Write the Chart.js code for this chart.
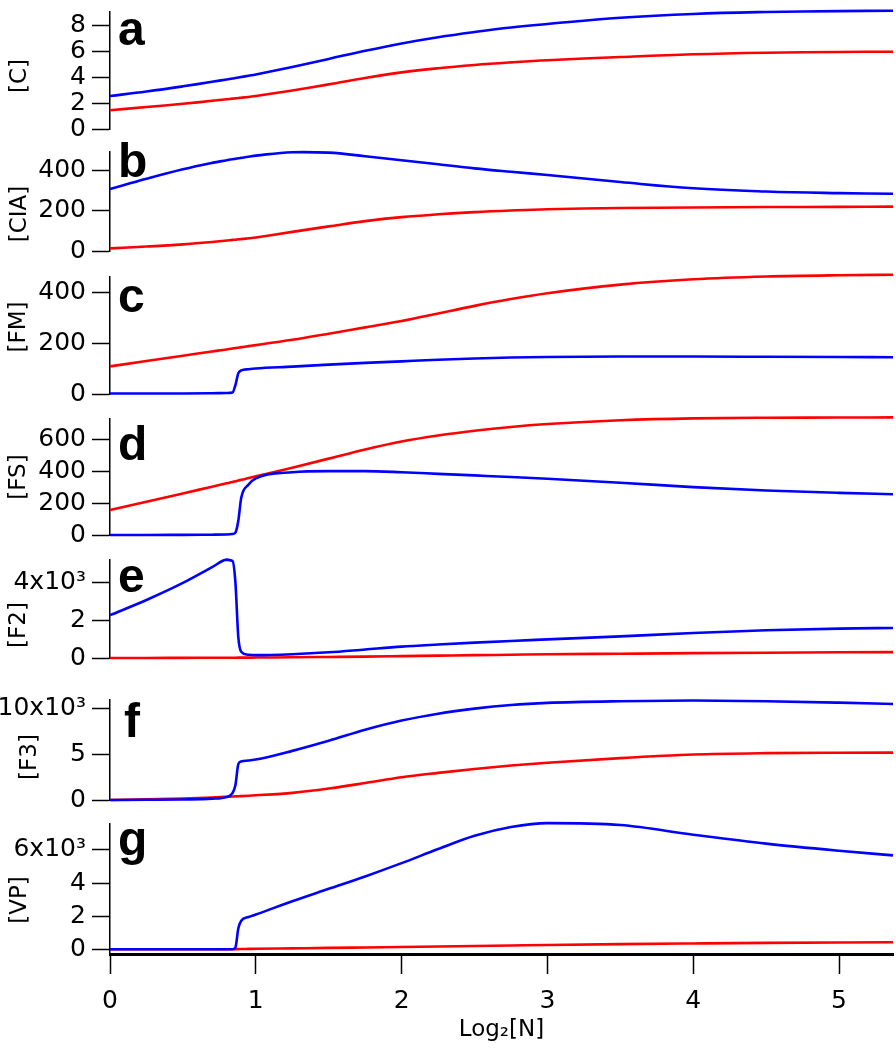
<!DOCTYPE html>
<html>
<head>
<meta charset="utf-8">
<title>Steady state vs Log2[N]</title>
<script src="https://cdn.jsdelivr.net/npm/chart.js@4.4.0/dist/chart.umd.min.js"></script>
<style>
  html, body { margin: 0; padding: 0; background: #fff; }
  #wrap { position: relative; width: 896px; height: 1052px; overflow: hidden; }
  .panel { position: absolute; left: 0; width: 896px; }
</style>
</head>
<body>
<div id="wrap"></div>
<script>
// shared x grid (Log2[N]), finer around the switch near 0.85
const xs = [0, 0.25, 0.5, 0.7, 0.8, 0.84, 0.86, 0.88, 0.9, 0.95, 1, 1.25, 1.5, 1.75, 2, 2.25, 2.5, 2.75, 3, 3.5, 4, 4.5, 5, 5.37];

// a  [C]
const cBlue = [2.55, 2.9, 3.3, 3.65, 3.83, 3.9, 3.94, 3.98, 4.02, 4.12, 4.22, 4.8, 5.42, 6.05, 6.62, 7.1, 7.5, 7.85, 8.12, 8.6, 8.9, 9.05, 9.12, 9.15];
const cRed = [1.45, 1.7, 1.95, 2.18, 2.3, 2.35, 2.37, 2.4, 2.42, 2.48, 2.55, 2.98, 3.45, 3.95, 4.38, 4.7, 4.95, 5.15, 5.32, 5.57, 5.78, 5.9, 5.96, 5.98];
// b  [CIA]
const ciaBlue = [307, 358, 405, 437, 450, 455, 457, 460, 462, 467, 473, 490, 488, 470, 450, 430, 410, 393, 377, 342, 311, 295, 287, 284];
const ciaRed = [13, 22, 33, 45, 52, 55, 56, 58, 59, 63, 67, 95, 122, 148, 168, 182, 193, 201, 207, 213, 216, 218, 219, 220];
// c  [FM]
const fmBlue = [2, 2, 2, 3, 4, 6, 35, 82, 93, 98, 101, 108, 116, 123, 129, 135, 140, 144, 146, 148, 148, 147, 146, 145];
const fmRed = [109, 130, 151, 168, 176, 180, 181, 183, 185, 189, 193, 214, 238, 263, 288, 318, 348, 375, 398, 432, 453, 464, 469, 471];
// d  [FS]
const fsBlue = [0, 0, 1, 2, 3, 6, 15, 90, 235, 318, 357, 396, 403, 403, 396, 386, 376, 366, 355, 330, 302, 281, 266, 257];
const fsRed = [158, 210, 262, 305, 326, 335, 339, 344, 348, 359, 370, 425, 482, 540, 590, 628, 658, 682, 700, 724, 736, 740, 741, 742];
// e  [F2]
const f2Blue = [2260, 3060, 3960, 4790, 5190, 5120, 4000, 1100, 330, 170, 150, 200, 300, 450, 600, 710, 810, 900, 980, 1140, 1320, 1460, 1550, 1585];
const f2Red = [0, 3, 8, 12, 15, 16, 17, 18, 19, 21, 24, 36, 55, 75, 100, 125, 150, 172, 195, 225, 255, 280, 300, 310];
// f  [F3]
const f3Blue = [0, 20, 60, 150, 330, 750, 1600, 3900, 4200, 4300, 4400, 5350, 6450, 7650, 8650, 9400, 9950, 10350, 10580, 10760, 10830, 10760, 10600, 10450];
const f3Red = [0, 70, 170, 280, 350, 380, 395, 410, 425, 465, 510, 780, 1250, 1850, 2480, 2950, 3380, 3750, 4050, 4560, 4950, 5100, 5150, 5160];
// g  [VP]
const vpBlue = [0, 0, 0, 0, 0, 0, 100, 1250, 1720, 1950, 2100, 2900, 3650, 4400, 5200, 6050, 6850, 7380, 7620, 7500, 6920, 6380, 5950, 5670];
const vpRed = [0, 0, 0, 0, 0, 0, 5, 10, 15, 22, 30, 55, 80, 110, 140, 170, 200, 230, 260, 310, 350, 385, 410, 420];

// tick values and labels
const cTicks = [0, 2, 4, 6, 8];
const cLabels = ['0', '2', '4', '6', '8'];
const ciaTicks = [0, 200, 400];
const ciaLabels = ['0', '200', '400'];
const fmTicks = [0, 200, 400];
const fmLabels = ['0', '200', '400'];
const fsTicks = [0, 200, 400, 600];
const fsLabels = ['0', '200', '400', '600'];
const f2Ticks = [0, 2000, 4000];
const f2Labels = ['0', '2', '4x10\u00b3'];
const f3Ticks = [0, 5000, 10000];
const f3Labels = ['0', '5', '10x10\u00b3'];
const vpTicks = [0, 2000, 4000, 6000];
const vpLabels = ['0', '2', '4', '6x10\u00b3'];
const xTicks = [0, 1, 2, 3, 4, 5];
const xLabels = ['0', '1', '2', '3', '4', '5'];

const X_MAX = 5.37;
const BLUE = '#0000ff';
const RED = '#ff0000';
const TICK_FONT = { family: '"DejaVu Sans", sans-serif', size: 25 };

// layout of each panel: plot area top/bottom in px, letter offset (lx, ly), y title centre (tx, ty)
const panels = [
  { letter: 'a', title: '[C]', blue: cBlue, red: cRed, ticks: cTicks, labels: cLabels, min: 0, max: 9.05, top: 5, bottom: 136, lx: 8, ly: 33, tx: 20, ty: 64, jump: false },
  { letter: 'b', title: '[CIA]', blue: ciaBlue, red: ciaRed, ticks: ciaTicks, labels: ciaLabels, min: 0, max: 491, top: 145, bottom: 258, lx: 8, ly: 25, tx: 20, ty: 62, jump: false },
  { letter: 'c', title: '[FM]', blue: fmBlue, red: fmRed, ticks: fmTicks, labels: fmLabels, min: 0, max: 462, top: 270, bottom: 401, lx: 8, ly: 35, tx: 19, ty: 50, jump: true },
  { letter: 'd', title: '[FS]', blue: fsBlue, red: fsRed, ticks: fsTicks, labels: fsLabels, min: 0, max: 732, top: 412, bottom: 542, lx: 8, ly: 41, tx: 19, ty: 58, jump: true },
  { letter: 'e', title: '[F2]', blue: f2Blue, red: f2Red, ticks: f2Ticks, labels: f2Labels, min: 0, max: 5170, top: 553, bottom: 665, lx: 8, ly: 32, tx: 19, ty: 65, jump: true },
  { letter: 'f', title: '[F3]', blue: f3Blue, red: f3Red, ticks: f3Ticks, labels: f3Labels, min: 0, max: 10890, top: 693, bottom: 807, lx: 14, ly: 37, tx: 30, ty: 57, jump: true },
  { letter: 'g', title: '[VP]', blue: vpBlue, red: vpRed, ticks: vpTicks, labels: vpLabels, min: -287, max: 7565, top: 817, bottom: 954, lx: 8, ly: 31, tx: 20, ty: 76, jump: true, last: true }
];

const PAD = 14;
const AXIS_W = 110;

// panel letter and rotated y-axis title
const panelLabels = {
  id: 'panelLabels',
  afterDraw(chart, args, opts) {
    const ctx = chart.ctx;
    const area = chart.chartArea;
    ctx.save();
    ctx.fillStyle = '#000';
    ctx.font = 'bold 48px "Liberation Sans", Arial, sans-serif';
    ctx.textBaseline = 'alphabetic';
    ctx.textAlign = 'left';
    ctx.fillText(opts.letter, area.left + opts.dx, area.top + opts.dy);

    ctx.font = '23px "DejaVu Sans", sans-serif';
    ctx.textAlign = 'center';
    ctx.textBaseline = 'middle';
    ctx.translate(opts.tx, area.top + opts.ty);
    ctx.rotate(-Math.PI / 2);
    ctx.fillText(opts.title, 0, 0);
    ctx.restore();
  }
};

function series(values) {
  return xs.map(function(x, i) { return { x: x, y: values[i] }; });
}

function lineStyle(color, monotone) {
  return {
    borderColor: color,
    borderWidth: 2.6,
    pointRadius: 0,
    tension: 0.4,
    cubicInterpolationMode: monotone ? 'monotone' : 'default',
    clip: false
  };
}

function makePanel(p) {
  const wrap = document.getElementById('wrap');
  const div = document.createElement('div');
  div.className = 'panel';
  const canvasTop = p.top - PAD;
  const height = p.last ? 1052 - canvasTop : (p.bottom - p.top) + 2 * PAD;
  div.style.top = canvasTop + 'px';
  div.style.height = height + 'px';
  const canvas = document.createElement('canvas');
  canvas.width = 896;
  canvas.height = height;
  div.appendChild(canvas);
  wrap.appendChild(div);

  const xAxis = {
    type: 'linear',
    min: 0,
    max: X_MAX,
    display: !!p.last
  };
  if (p.last) {
    Object.assign(xAxis, {
      afterFit: function(scale) { scale.height = 1052 - p.bottom; },
      afterBuildTicks: function(axis) { axis.ticks = xTicks.map(function(v) { return { value: v }; }); },
      border: { display: true, color: '#000', width: 3 },
      grid: { drawOnChartArea: false, drawTicks: true, tickLength: 20, tickColor: '#000', tickWidth: 1.5 },
      ticks: {
        autoSkip: false,
        maxRotation: 0,
        padding: 12,
        color: '#000',
        font: TICK_FONT,
        callback: function(v) { return xLabels[xTicks.indexOf(v)]; }
      },
      title: {
        display: true,
        text: 'Log\u2082[N]',
        color: '#000',
        font: { family: '"DejaVu Sans", sans-serif', size: 23 },
        padding: { top: 0, bottom: 8 }
      }
    });
  }

  new Chart(canvas, {
    type: 'line',
    data: {
      datasets: [
        Object.assign({ data: series(p.blue) }, lineStyle(BLUE, p.jump)),
        Object.assign({ data: series(p.red) }, lineStyle(RED, p.jump))
      ]
    },
    options: {
      responsive: false,
      animation: false,
      events: [],
      layout: { padding: { left: 0, right: 3, top: PAD, bottom: p.last ? 0 : PAD } },
      plugins: {
        legend: { display: false },
        tooltip: { enabled: false },
        panelLabels: { letter: p.letter, dx: p.lx, dy: p.ly, title: p.title, tx: p.tx, ty: p.ty }
      },
      scales: {
        x: xAxis,
        y: {
          type: 'linear',
          min: p.min,
          max: p.max,
          afterFit: function(scale) { scale.width = AXIS_W; },
          afterBuildTicks: function(axis) { axis.ticks = p.ticks.map(function(v) { return { value: v }; }); },
          border: { display: true, color: '#000', width: 1.5 },
          grid: { drawOnChartArea: false, drawTicks: true, tickLength: 18, tickColor: '#000', tickWidth: 1.5 },
          ticks: {
            autoSkip: false,
            padding: 6,
            color: '#000',
            font: TICK_FONT,
            callback: function(v) { return p.labels[p.ticks.indexOf(v)]; }
          }
        }
      }
    },
    plugins: [panelLabels]
  });
}

panels.forEach(makePanel);
</script>
</body>
</html>
